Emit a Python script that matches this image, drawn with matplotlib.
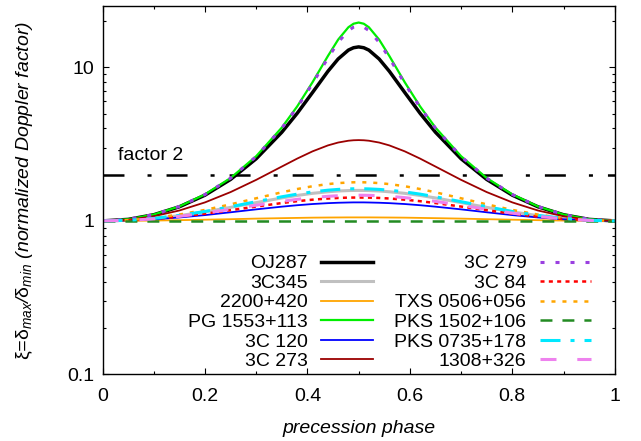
import matplotlib
matplotlib.use('Agg')
import matplotlib.pyplot as plt
from matplotlib.ticker import FixedLocator, MultipleLocator, LogLocator, NullFormatter

plt.rcParams['font.family'] = ['Liberation Sans', 'DejaVu Sans']
plt.rcParams['mathtext.fontset'] = 'custom'
plt.rcParams['mathtext.rm'] = 'Liberation Sans'
plt.rcParams['mathtext.it'] = 'Liberation Sans:italic'
plt.rcParams['mathtext.bf'] = 'Liberation Sans:bold'
plt.rcParams['mathtext.sf'] = 'Liberation Sans'
plt.rcParams['lines.scale_dashes'] = False

# ---------------- data ----------------
phase = [0.0, 0.05, 0.1, 0.15, 0.2, 0.25, 0.3, 0.35, 0.38, 0.41, 0.44, 0.46, 0.48, 0.49, 0.5,
         0.51, 0.52, 0.54, 0.56, 0.59, 0.62, 0.65, 0.7, 0.75, 0.8, 0.85, 0.9, 0.95, 1.0]

oj287 = [1.0, 1.023, 1.097, 1.236, 1.471, 1.863, 2.541, 3.781, 5.023, 6.866, 9.429, 11.35, 12.96, 13.43, 13.6,
         13.43, 12.96, 11.35, 9.429, 6.866, 5.023, 3.781, 2.541, 1.863, 1.471, 1.236, 1.097, 1.023, 1.0]
c3c345 = [1.0, 1.009, 1.036, 1.082, 1.145, 1.225, 1.316, 1.411, 1.465, 1.512, 1.548, 1.566, 1.576, 1.579, 1.58,
          1.579, 1.576, 1.566, 1.548, 1.512, 1.465, 1.411, 1.316, 1.225, 1.145, 1.082, 1.036, 1.009, 1.0]
s2200 = [1.0, 1.001, 1.005, 1.011, 1.018, 1.026, 1.035, 1.042, 1.046, 1.050, 1.052, 1.053, 1.054, 1.054, 1.054,
         1.054, 1.054, 1.053, 1.052, 1.050, 1.046, 1.042, 1.035, 1.026, 1.018, 1.011, 1.005, 1.001, 1.0]
pg1553 = [1.0, 1.024, 1.100, 1.243, 1.488, 1.903, 2.639, 4.055, 5.567, 8.007, 11.86, 15.17, 18.26, 19.25, 19.6,
          19.25, 18.26, 15.17, 11.86, 8.007, 5.567, 4.055, 2.639, 1.903, 1.488, 1.243, 1.100, 1.024, 1.0]
c3c120 = [1.0, 1.006, 1.024, 1.053, 1.091, 1.138, 1.189, 1.238, 1.265, 1.288, 1.305, 1.313, 1.318, 1.320, 1.32,
          1.320, 1.318, 1.313, 1.305, 1.288, 1.265, 1.238, 1.189, 1.138, 1.091, 1.053, 1.024, 1.006, 1.0]
c3c273 = [1.0, 1.017, 1.072, 1.169, 1.320, 1.541, 1.851, 2.260, 2.546, 2.839, 3.103, 3.240, 3.329, 3.352, 3.36,
          3.352, 3.329, 3.240, 3.103, 2.839, 2.546, 2.260, 1.851, 1.541, 1.320, 1.169, 1.072, 1.017, 1.0]
c3c279 = [1.0, 1.024, 1.099, 1.242, 1.486, 1.898, 2.627, 4.019, 5.495, 7.848, 11.50, 14.57, 17.39, 18.28, 18.6,
          18.28, 17.39, 14.57, 11.50, 7.848, 5.495, 4.019, 2.627, 1.898, 1.486, 1.242, 1.099, 1.024, 1.0]
c3c84 = [1.0, 1.007, 1.029, 1.065, 1.114, 1.174, 1.240, 1.307, 1.344, 1.375, 1.399, 1.411, 1.418, 1.419, 1.42,
         1.419, 1.418, 1.411, 1.399, 1.375, 1.344, 1.307, 1.240, 1.174, 1.114, 1.065, 1.029, 1.007, 1.0]
txs0506 = [1.0, 1.011, 1.044, 1.100, 1.179, 1.282, 1.404, 1.536, 1.613, 1.682, 1.737, 1.763, 1.779, 1.784, 1.785,
           1.784, 1.779, 1.763, 1.737, 1.682, 1.613, 1.536, 1.404, 1.282, 1.179, 1.100, 1.044, 1.011, 1.0]
pks1502 = [1.0, 1.0, 1.0, 1.0, 1.0, 1.0, 1.0, 1.0, 1.0, 1.0, 1.0, 1.0, 1.0, 1.0, 1.0,
           1.0, 1.0, 1.0, 1.0, 1.0, 1.0, 1.0, 1.0, 1.0, 1.0, 1.0, 1.0, 1.0, 1.0]
pks0735 = [1.0, 1.009, 1.038, 1.086, 1.152, 1.237, 1.334, 1.436, 1.494, 1.545, 1.585, 1.604, 1.616, 1.619, 1.62,
           1.619, 1.616, 1.604, 1.585, 1.545, 1.494, 1.436, 1.334, 1.237, 1.152, 1.086, 1.038, 1.009, 1.0]
s1308 = [1.0, 1.008, 1.031, 1.071, 1.124, 1.190, 1.265, 1.340, 1.382, 1.418, 1.446, 1.459, 1.467, 1.469, 1.47,
         1.469, 1.467, 1.459, 1.446, 1.418, 1.382, 1.340, 1.265, 1.190, 1.124, 1.071, 1.031, 1.008, 1.0]

names = ['OJ287', '3C345', '2200+420', 'PG 1553+113', '3C 120', '3C 273',
         '3C 279', '3C 84', 'TXS 0506+056', 'PKS 1502+106', 'PKS 0735+178', '1308+326']
series = [oj287, c3c345, s2200, pg1553, c3c120, c3c273,
          c3c279, c3c84, txs0506, pks1502, pks0735, s1308]

factor_level = 2
factor_label = 'factor 2'

xtick_vals = [0, 0.2, 0.4, 0.6, 0.8, 1]
xtick_labels = ['0', '0.2', '0.4', '0.6', '0.8', '1']
ytick_vals = [0.1, 1, 10]
ytick_labels = ['0.1', '1', '10']

# ---------------- styles ----------------
styles = [
    dict(color='black', lw=2.5),
    dict(color='#c0c0c0', lw=2.2),
    dict(color='#ffa500', lw=1.3),
    dict(color='#00ee00', lw=1.6),
    dict(color='#0000ff', lw=1.3),
    dict(color='#9b0000', lw=1.3),
    dict(color='#9a40e0', lw=2.2, dashes=(2.9, 7.9)),
    dict(color='#ff0000', lw=1.8, dashes=(2.9, 3.1)),
    dict(color='#ffa500', lw=1.8, dashes=(2.9, 5.0)),
    dict(color='#228b22', lw=1.8, dashes=(8.6, 7.2)),
    dict(color='#00e8ff', lw=2.2, dashes=(14.4, 7.2, 2.9, 7.2)),
    dict(color='#ee82ee', lw=2.2, dashes=(11.5, 15.0)),
]

fig = plt.figure(figsize=(6.41, 4.41), dpi=100)
ax = fig.add_axes([0.16, 0.151, 0.799, 0.8347])

ax.axhline(factor_level, color='black', lw=1.8, dashes=(15.1, 16.6, 2.9, 10.8))
ax.text(0.03, 2.65, factor_label, fontsize=14, va='center', ha='left')

for name, ys, st in zip(names, series, styles):
    ax.plot(phase, ys, label=name, **st)

ax.set_yscale('log')
ax.set_xlim(0, 1)
ax.set_ylim(0.1, 25)

ax.xaxis.set_major_locator(FixedLocator(xtick_vals))
ax.set_xticklabels(xtick_labels)
ax.xaxis.set_minor_locator(MultipleLocator(0.1))
ax.yaxis.set_major_locator(FixedLocator(ytick_vals))
ax.set_yticklabels(ytick_labels)
ax.yaxis.set_minor_locator(LogLocator(base=10, subs=(2, 3, 4, 5, 6, 7, 8, 9)))
ax.yaxis.set_minor_formatter(NullFormatter())

ax.tick_params(which='both', direction='in', top=True, right=True, width=0.8)
ax.tick_params(which='major', length=4.3, labelsize=14)
ax.tick_params(axis='x', which='major', pad=9.5)
ax.tick_params(axis='y', which='major', pad=6)
ax.tick_params(which='minor', length=2.2)
for sp in ax.spines.values():
    sp.set_linewidth(1.0)

ax.set_xlabel('precession phase', fontsize=14, fontstyle='italic')
ax.xaxis.label.set_va('center')
ax.xaxis.set_label_coords(0.5, -0.148)
ax.set_ylabel(r'$\mathrm{\xi}$=$\mathrm{\delta}_{max}$/$\mathrm{\delta}_{min}$ (normalized Doppler factor)',
              fontsize=14, fontstyle='italic')
ax.yaxis.label.set_va('center')
ax.yaxis.set_label_coords(-0.153, 0.5)

leg = ax.legend(ncol=2, loc='lower right', bbox_to_anchor=(0.9546, 0.0117),
                frameon=False, fontsize=14, markerfirst=False,
                handlelength=2.65, handletextpad=0.7, columnspacing=1.1,
                labelspacing=0.1, borderpad=0, borderaxespad=0)

fig.savefig('out.png', dpi=100)
